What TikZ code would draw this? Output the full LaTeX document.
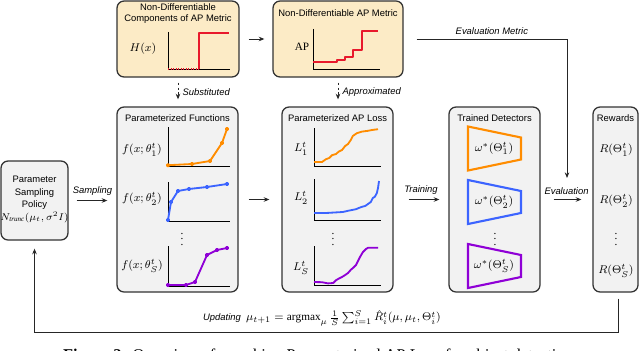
\documentclass[tikz,border=0pt]{standalone}
\usepackage{amsmath}
\usepackage{fontspec}
\setmainfont{Liberation Serif}
\setsansfont{Liberation Sans}
\usetikzlibrary{arrows.meta,positioning,calc,backgrounds}
\definecolor{cyel}{HTML}{FCEBC6}
\definecolor{cgry}{HTML}{F2F2F2}
\definecolor{cbdr}{HTML}{333333}
\definecolor{cred}{HTML}{E8192C}
\definecolor{corg}{HTML}{FF8C00}
\definecolor{cblu}{HTML}{3C64FF}
\definecolor{cpur}{HTML}{8F00D6}
\begin{document}
\begin{tikzpicture}[
  font=\sffamily\fontsize{6.7}{8}\selectfont,
  box/.style={draw=cbdr, rounded corners=5pt, line width=0.9pt},
  ttl/.style={inner sep=0pt, align=center},
  mth/.style={font=\fontsize{8}{9}\selectfont, inner sep=0pt},
  flow/.style={-{Stealth[length=4pt, width=3.2pt]}, line width=0.6pt, draw=black!85},
  sub/.style={flow, dash pattern=on 2pt off 1.5pt},
  lbl/.style={font=\sffamily\itshape\fontsize{6.7}{8}\selectfont, inner sep=1pt},
  axis/.style={line width=0.6pt, draw=black},
  crv/.style={line width=1.3pt, line join=round},
  knots/.style={mark=*, mark size=0.9pt, mark options={draw=none, fill=#1!50!black}},
  trap/.style={line width=1.5pt, line join=miter},
]
\newcommand{\dtr}[2]{\draw[trap, #1] (11.7,#2+0.55) -- (13.025,#2+0.275) -- (13.025,#2-0.275) -- (11.7,#2-0.55) -- cycle;}
\useasboundingbox (0,0) rectangle (16,-8.75);

% ------------------------------------------------------------------ AP metric
\node[box, fill=cyel, minimum width=3.05cm, minimum height=1.9cm] (comp) at (4.45,-0.975) {};
\node[ttl] (compttl) at (4.45,-0.34) {Non-Differentiable\\Components of AP Metric};
\node[mth] (hx) at (3.575,-1.225) {$H(x)$};
\begin{scope}[shift={(4.2,-1.725)}]
  \draw[axis] (0,0.925) |- (1.55,0);
  \draw[cred, line width=0.8pt, densely dotted] (0,0) -- (0.775,0);
  \draw[cred, crv] (0.775,0) -- (0.775,0.9) -- (1.525,0.9);
\end{scope}

\node[box, fill=cyel, minimum width=3.25cm, minimum height=1.9cm] (apm) at (8.45,-0.975) {};
\node[ttl] (apmttl) at (8.45,-0.325) {Non-Differentiable AP Metric};
\node[mth] (ap) at (7.55,-1.175) {$\mathrm{AP}$};
\begin{scope}[shift={(7.825,-1.725)}]
  \draw[axis] (0,1.0) |- (1.675,0);
  \draw[cred, crv] (0,0.175) -- (0.6,0.175) -- (0.6,0.225) -- (0.8,0.225) -- (0.8,0.3) -- (1.0,0.3)
    -- (1.0,0.475) -- (1.225,0.475) -- (1.225,0.95) -- (1.625,0.95);
\end{scope}

% ------------------------------------------------------------------ policy
\node[box, fill=cgry, minimum width=1.675cm, minimum height=1.975cm] (pol) at (0.8625,-5.0125) {};
\node[ttl] (polttl) at (0.8625,-4.99) {Parameter\\[1pt]Sampling\\[1pt]Policy\\[1pt]{\fontsize{7}{9}\selectfont$N_{\mathit{trunc}}(\mu_t,\sigma^2 I)$}};

% ------------------------------------------------------------------ parameterized functions
\node[box, fill=cgry, minimum width=3.025cm, minimum height=4.625cm] (func) at (4.4375,-4.9875) {};
\node[ttl] (functtl) at (4.4375,-2.95) {Parameterized Functions};
\node[mth] (f1) at (3.55,-3.75) {$f(x;\theta_1^t)$};
\node[mth] (f2) at (3.55,-4.975) {$f(x;\theta_2^t)$};
\node[mth] (fs) at (3.55,-6.65) {$f(x;\theta_S^t)$};
\node[mth] (fdots) at (4.55,-5.875) {$\vdots$};
\begin{scope}[shift={(4.2,-4.15)}]
  \draw[axis] (0,0.975) |- (1.55,0);
  \draw[corg, crv, knots=corg] plot coordinates {(0,0.02) (0.6,0.05) (1.05,0.125) (1.35,0.575) (1.475,0.925)};
\end{scope}
\begin{scope}[shift={(4.2,-5.525)}]
  \draw[axis] (0,0.975) |- (1.55,0);
  \draw[cblu, crv, knots=cblu] plot coordinates {(0,0.025) (0.075,0.475) (0.25,0.75) (0.525,0.8) (0.975,0.85) (1.475,0.925)};
\end{scope}
\begin{scope}[shift={(4.2,-7.15)}]
  \draw[axis] (0,1.0) |- (1.55,0);
  \draw[cpur, crv, knots=cpur] plot coordinates {(0,0.025) (0.45,0.025) (0.675,0.1) (0.975,0.775) (1.225,0.9) (1.475,0.95)};
\end{scope}

% ------------------------------------------------------------------ parameterized loss
\node[box, fill=cgry, minimum width=2.775cm, minimum height=4.625cm] (loss) at (8.4375,-4.9875) {};
\node[ttl] (lossttl) at (8.4375,-2.95) {Parameterized AP Loss};
\node[mth] (l1) at (7.525,-3.725) {$L_1^t$};
\node[mth] (l2) at (7.525,-4.95) {$L_2^t$};
\node[mth] (ls) at (7.525,-6.7) {$L_S^t$};
\node[mth] (ldots) at (8.325,-5.875) {$\vdots$};
\begin{scope}[shift={(7.85,-4.15)}]
  \draw[axis] (0,0.95) |- (1.675,0);
  \draw[corg, crv] (0,0.1) -- (0.2,0.1) -- (0.3,0.17) -- (0.38,0.2) -- (0.45,0.27) -- (0.55,0.3) -- (0.62,0.36)
    -- (0.7,0.4) -- (0.78,0.5) -- (0.85,0.55) -- (0.92,0.65) -- (0.97,0.75) -- (1.07,0.82) -- (1.2,0.86)
    -- (1.35,0.88) -- (1.45,0.9) -- (1.6,0.92);
\end{scope}
\begin{scope}[shift={(7.85,-5.5)}]
  \draw[axis] (0,1.025) |- (1.675,0);
  \draw[cblu, crv] (0,0.175) -- (0.3,0.175) -- (0.55,0.19) -- (0.72,0.2) -- (0.85,0.23) -- (0.95,0.25)
    -- (1.05,0.27) -- (1.12,0.3) -- (1.2,0.33) -- (1.28,0.35) -- (1.35,0.4) -- (1.42,0.45) -- (1.47,0.55)
    -- (1.52,0.58) -- (1.57,0.67) -- (1.6,0.8) -- (1.625,0.975);
\end{scope}
\begin{scope}[shift={(7.85,-7.125)}]
  \draw[axis] (0,0.975) |- (1.675,0);
  \draw[cpur, crv] (0,0.075) -- (0.2,0.07) -- (0.35,0.04) -- (0.48,0.05) -- (0.55,0.12) -- (0.62,0.16)
    -- (0.7,0.2) -- (0.78,0.25) -- (0.85,0.3) -- (0.92,0.38) -- (0.98,0.43) -- (1.05,0.5) -- (1.1,0.6)
    -- (1.15,0.7) -- (1.22,0.82) -- (1.3,0.9) -- (1.35,0.93) -- (1.6,0.93);
\end{scope}

% ------------------------------------------------------------------ detectors
\node[box, fill=cgry, minimum width=2.275cm, minimum height=4.625cm] (det) at (12.3625,-4.9875) {};
\node[ttl] (detttl) at (12.3625,-2.95) {Trained Detectors};
\dtr{corg}{-3.7125}
\dtr{cblu}{-5.05}
\dtr{cpur}{-6.65}
\node[mth] (w1) at (12.35,-3.7125) {$\omega^*(\Theta_1^t)$};
\node[mth] (w2) at (12.35,-5.05) {$\omega^*(\Theta_2^t)$};
\node[mth] (ws) at (12.35,-6.65) {$\omega^*(\Theta_S^t)$};
\node[mth] (wdots) at (12.375,-5.875) {$\vdots$};

% ------------------------------------------------------------------ rewards
\node[box, fill=cgry, minimum width=1.125cm, minimum height=4.625cm] (rew) at (15.3875,-4.9875) {};
\node[ttl] (rewttl) at (15.3875,-2.95) {Rewards};
\node[mth] (r1) at (15.4,-3.75) {$R(\Theta_1^t)$};
\node[mth] (r2) at (15.4,-5.025) {$R(\Theta_2^t)$};
\node[mth] (rs) at (15.4,-6.775) {$R(\Theta_S^t)$};
\node[mth] (rdots) at (15.4,-5.875) {$\vdots$};

% ------------------------------------------------------------------ flow
\draw[flow, shorten <=0.225cm, shorten >=0.2cm] (comp.east) -- (comp.east -| apm.west);
\draw[sub, shorten <=0.125cm, shorten >=0.175cm] (comp.south) -- node[lbl, right=2pt] (subst) {Substituted} (comp.south |- func.north);
\draw[sub, shorten <=0.125cm, shorten >=0.175cm] (apm.south) -- node[lbl, right=2pt] (approx) {Approximated} (apm.south |- loss.north);
\draw[flow, shorten <=0.2cm, shorten >=0.225cm] (pol.east) -- node[lbl, above=2pt] (samp) {Sampling} (pol.east -| func.west);
\draw[flow, shorten <=0.25cm, shorten >=0.3cm] (func.east) -- (func.east -| loss.west);
\draw[flow, shorten <=0.375cm, shorten >=0.225cm] (loss.east) -- node[lbl, above=2pt] (train) {Training} (loss.east -| det.west);
\draw[flow, shorten <=0.325cm, shorten >=0.275cm] (det.east) -- node[lbl, above=2pt] (evl) {Evaluation} (det.east -| rew.west);
\coordinate (evtip) at (14.175,-4.45);
\draw[flow, shorten <=0.325cm] (apm.east) -| node[lbl, pos=0.27, above=2pt] (evm) {Evaluation Metric} (evtip);

% ------------------------------------------------------------------ update loop
\coordinate (fb) at (8,-8.3);
\draw[flow, shorten <=0.15cm, shorten >=0.2cm] ([xshift=2pt]rew.south) -- ([xshift=2pt]rew.south |- fb)
  -- (pol.south |- fb) -- (pol.south);
\node[lbl] (upd) at (8.05,-7.95) {Updating\ \ {\upshape\fontsize{8}{9}\selectfont
  $\mu_{t+1}=\operatorname{argmax}_{\mu}\frac{1}{S}\sum_{i=1}^{S}\hat{R}_i^t(\mu,\mu_t,\Theta_i^t)$}};

\node[anchor=base, font=\rmfamily\fontsize{11.7}{13}\selectfont] (cap) at (8,-9.0)
  {\textbf{Figure 2:} Overview of searching Parameterized AP Loss for object detection.};
\end{tikzpicture}
\end{document}
